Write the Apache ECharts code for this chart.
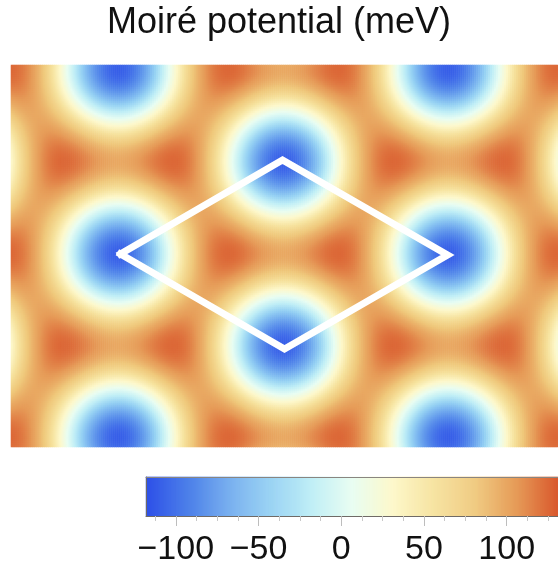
<!DOCTYPE html>
<html>
<head>
<meta charset="utf-8">
<script src="https://cdn.jsdelivr.net/npm/echarts@6/dist/echarts.min.js"></script>
<style>
html,body{margin:0;padding:0;background:#ffffff;}
#chart{width:558px;height:573px;}
</style>
</head>
<body>
<div id="chart"></div>
<script>
// ---- text ----
const titleText = 'Moiré potential (meV)';

// ---- colour bar (meV) ----
const colorRange = [-118, 131];
const colorbarTicks = [-100, -50, 0, 50, 100];
const colorbarMinorTicks = [-112.5, -87.5, -75, -62.5, -37.5, -25, -12.5, 12.5, 25, 37.5, 62.5, 75, 87.5, 112.5, 125];
const colorStops = ['#2d4fe8', '#4c7fe9', '#70aaee', '#94d0f3', '#bfeef6', '#e8fdf2',
                    '#fdf8cb', '#f6e29d', '#efc87b', '#e69b58', '#d9582d'];

// ---- moiré potential landscape (plot units) ----
const minimumSite = [108, 189];   // one potential minimum (blue centre)
const latticeA1 = [0, 184];       // moiré lattice vector 1
const latticeA2 = [166, 92];      // moiré lattice vector 2
const potentialMin = -110;        // meV at minima
const potentialMax = 125;         // meV at maxima
const plotSize = [550, 382];
const cellSize = 2;

// ---- unit-cell rhombus (plot units) ----
const rhombusX = [110, 273, 439, 275, 110];
const rhombusY = [189, 95, 190, 284, 189];

// ---- build the field from the continuum moiré model ----
const NX = plotSize[0] / cellSize, NY = Math.round(plotSize[1] / cellSize);
const xCats = [], yCats = [];
for (let i = 0; i < NX; i++) xCats.push(i);
for (let j = 0; j < NY; j++) yCats.push(j);
const amp = (potentialMax - potentialMin) / 4.5;
const v0 = potentialMin + 3 * amp;
const det = latticeA1[0] * latticeA2[1] - latticeA2[0] * latticeA1[1];
const fieldData = [];
for (let j = 0; j < NY; j++) {
  for (let i = 0; i < NX; i++) {
    const x = (i + 0.5) * cellSize - minimumSite[0];
    const y = (j + 0.5) * cellSize - minimumSite[1];
    const u = (x * latticeA2[1] - latticeA2[0] * y) / det;
    const v = (latticeA1[0] * y - latticeA1[1] * x) / det;
    const s = Math.cos(2 * Math.PI * u) + Math.cos(2 * Math.PI * v) + Math.cos(2 * Math.PI * (u + v));
    fieldData.push([i, j, v0 - amp * s]);
  }
}

// colour bar strip (one cell per pixel of its 414 px length)
const barLen = 414;
const barCats = [], barData = [];
for (let k = 0; k < barLen; k++) {
  barCats.push(k);
  barData.push([k, 0, colorRange[0] + (k + 0.5) * (colorRange[1] - colorRange[0]) / barLen]);
}

const fontFamily = '"Liberation Sans", Arial, Helvetica, sans-serif';
const fmt = v => (v < 0 ? '\u2212' + Math.abs(v) : String(v));

const chart = echarts.init(document.getElementById('chart'), null, {renderer: 'canvas'});
chart.setOption({
  animation: false,
  backgroundColor: '#ffffff',
  title: {
    text: titleText, left: 'center', top: 0,
    textStyle: {fontFamily, fontSize: 36, fontWeight: 'normal', color: '#111111'}
  },
  grid: [
    {left: 11, top: 65, width: plotSize[0], height: plotSize[1], containLabel: false},
    {left: 11, top: 65, width: plotSize[0], height: plotSize[1], containLabel: false},
    {left: 146, top: 477, width: barLen, height: 39, containLabel: false}
  ],
  xAxis: [
    {type: 'category', gridIndex: 0, data: xCats, show: false},
    {type: 'value', gridIndex: 1, min: 0, max: plotSize[0], show: false},
    {type: 'category', gridIndex: 2, data: barCats, show: false},
    {type: 'value', gridIndex: 2, position: 'bottom', min: colorRange[0], max: colorRange[1], z: 10,
      axisLine: {show: true, onZero: false, lineStyle: {color: '#6f6a66', width: 1}},
      axisTick: {show: true, inside: false, length: 10, customValues: colorbarTicks, lineStyle: {color: '#bdbdbd', width: 1}},
      axisLabel: {show: true, customValues: colorbarTicks, formatter: fmt, margin: 17,
        fontFamily, fontSize: 34, color: '#111111'},
      splitLine: {show: false}},
    {type: 'value', gridIndex: 2, position: 'bottom', min: colorRange[0], max: colorRange[1], z: 10,
      axisLine: {show: false, onZero: false},
      axisTick: {show: true, inside: false, length: 5, customValues: colorbarMinorTicks, lineStyle: {color: '#c8c8c8', width: 1}},
      axisLabel: {show: false}, splitLine: {show: false}},
    {type: 'value', gridIndex: 2, position: 'top', min: colorRange[0], max: colorRange[1], z: 10,
      axisLine: {show: true, onZero: false, lineStyle: {color: '#8a8580', width: 1}},
      axisTick: {show: false}, axisLabel: {show: false}, splitLine: {show: false}}
  ],
  yAxis: [
    {type: 'category', gridIndex: 0, data: yCats, inverse: true, show: false},
    {type: 'value', gridIndex: 1, min: 0, max: plotSize[1], inverse: true, show: false},
    {type: 'category', gridIndex: 2, data: ['bar'], z: 10, position: 'left',
      axisLine: {show: true, onZero: false, lineStyle: {color: '#6f6a66', width: 1}},
      axisTick: {show: false}, axisLabel: {show: false}, splitLine: {show: false}}
  ],
  visualMap: {
    type: 'continuous', show: false, min: colorRange[0], max: colorRange[1],
    dimension: 2, seriesIndex: [0, 2], inRange: {color: colorStops}
  },
  series: [
    {type: 'heatmap', xAxisIndex: 0, yAxisIndex: 0, data: fieldData, progressive: 0,
      itemStyle: {borderWidth: 0}, emphasis: {disabled: true}, silent: true},
    {type: 'line', xAxisIndex: 1, yAxisIndex: 1, z: 5,
      data: rhombusX.map((x, k) => [x, rhombusY[k]]),
      symbol: 'none', silent: true,
      lineStyle: {color: '#ffffff', width: 7, join: 'miter', cap: 'square'}},
    {type: 'heatmap', xAxisIndex: 2, yAxisIndex: 2, data: barData, progressive: 0,
      itemStyle: {borderWidth: 0}, emphasis: {disabled: true}, silent: true}
  ]
});
</script>
</body>
</html>
